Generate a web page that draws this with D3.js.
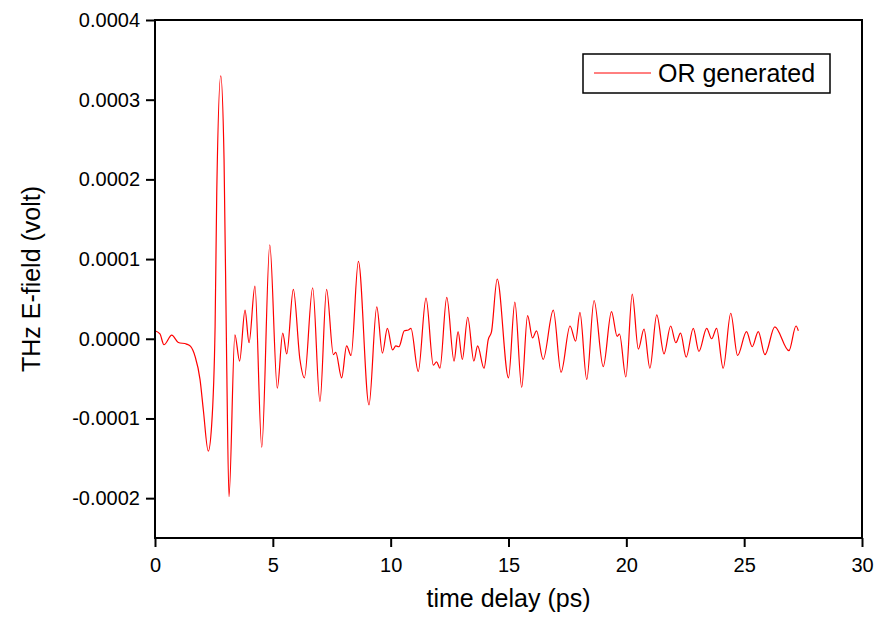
<!DOCTYPE html>
<html>
<head>
<meta charset="utf-8">
<script src="https://cdn.jsdelivr.net/npm/d3@7"></script>
<style>
  body { margin: 0; background: #fff; }
  text { font-family: Arial, "Liberation Sans", sans-serif; }
</style>
</head>
<body>
<div id="plotholder"></div>
<script>
// time delay (ps)
const TIMES = [
  0.00, 0.21, 0.38, 0.71, 0.99, 1.34, 1.51, 1.70, 1.91, 2.05, 2.26, 2.40,
  2.55, 2.62, 2.79, 2.93, 3.04, 3.14, 3.39, 3.59, 3.82, 3.99, 4.24, 4.53,
  4.87, 5.19, 5.42, 5.59, 5.87, 6.15, 6.34, 6.69, 7.00, 7.28, 7.57, 7.67,
  7.92, 8.13, 8.32, 8.63, 9.08, 9.41, 9.65, 9.86, 10.08, 10.22, 10.35, 10.58,
  10.75, 10.86, 11.17, 11.50, 11.81, 11.95, 12.09, 12.38, 12.69, 12.86, 13.04, 13.27,
  13.53, 13.69, 13.96, 14.14, 14.28, 14.52, 15.00, 15.27, 15.56, 15.81, 16.02, 16.19,
  16.47, 16.90, 17.23, 17.61, 17.85, 18.03, 18.32, 18.63, 19.02, 19.37, 19.61, 19.71,
  19.98, 20.25, 20.51, 20.75, 21.00, 21.29, 21.60, 21.88, 22.10, 22.30, 22.54, 22.84,
  23.08, 23.41, 23.62, 23.83, 24.11, 24.43, 24.72, 25.10, 25.34, 25.60, 25.88, 26.30,
  26.90, 27.20, 27.30
]

// THz E-field in units of 1e-4 volt
const FIELD = [
  0.10, 0.06, -0.075, 0.046, -0.046, -0.067, -0.096, -0.22, -0.51, -0.89, -1.41, -1.10,
  0.15, 1.83, 3.30, 2.25, -0.26, -1.98, 0.05, -0.28, 0.36, -0.05, 0.66, -1.36,
  1.18, -0.62, 0.07, -0.19, 0.62, -0.26, -0.49, 0.64, -0.79, 0.62, -0.20, -0.17,
  -0.49, -0.09, -0.21, 0.97, -0.83, 0.40, -0.18, 0.13, -0.14, -0.09, -0.10, 0.10,
  0.11, 0.13, -0.41, 0.51, -0.33, -0.29, -0.37, 0.52, -0.28, 0.09, -0.26, 0.27,
  -0.28, -0.09, -0.37, -0.01, 0.09, 0.75, -0.49, 0.46, -0.61, 0.29, 0.01, 0.10,
  -0.26, 0.36, -0.42, 0.16, -0.03, 0.33, -0.51, 0.48, -0.35, 0.34, 0.03, 0.06,
  -0.48, 0.56, -0.13, 0.12, -0.37, 0.30, -0.19, 0.16, -0.05, 0.07, -0.23, 0.13,
  -0.16, 0.13, 0.00, 0.13, -0.37, 0.32, -0.21, 0.09, -0.10, 0.09, -0.20, 0.15,
  -0.15, 0.16, 0.10
]

const XTICKS = [0, 5, 10, 15, 20, 25, 30]
const YTICKS = [-0.0002, -0.0001, 0, 0.0001, 0.0002, 0.0003, 0.0004]
const SERIESNAME = 'OR generated'

const width = 877, height = 617
const margin = { left: 155, right: 15, top: 20, bottom: 79 }
const plotw = width - margin.left - margin.right
const ploth = height - margin.top - margin.bottom

const svg = d3.select('#plotholder').append('svg')
  .attr('width', width)
  .attr('height', height)

const xscale = d3.scaleLinear().domain([0, 30]).range([margin.left, margin.left + plotw])
const yscale = d3.scaleLinear().domain([-0.00025, 0.0004]).range([margin.top + ploth, margin.top])

const data = TIMES.map((t, i) => [t, FIELD[i] * 1e-4])

// the trace
const line = d3.line()
  .x(d => xscale(d[0]))
  .y(d => yscale(d[1]))
  .curve(d3.curveMonotoneX)

svg.append('path')
  .datum(data)
  .attr('d', line)
  .attr('fill', 'none')
  .attr('stroke', '#ff0000')
  .attr('stroke-width', 1.2)

// frame
svg.append('rect')
  .attr('x', margin.left)
  .attr('y', margin.top)
  .attr('width', plotw)
  .attr('height', ploth)
  .attr('fill', 'none')
  .attr('stroke', '#000')
  .attr('stroke-width', 2)

// bottom axis
const xaxis = svg.append('g').attr('transform', `translate(0,${margin.top + ploth})`)
xaxis.call(d3.axisBottom(xscale).tickValues(d3.range(0, 30.01, 2.5)).tickSize(5).tickFormat(''))
xaxis.call(d3.axisBottom(xscale).tickValues(XTICKS).tickSize(9).tickPadding(11).tickFormat(d3.format('d')))
xaxis.selectAll('.domain').remove()
xaxis.selectAll('line').attr('stroke-width', 2)
xaxis.selectAll('text').attr('font-size', 20).attr('fill', '#000')

// left axis
const yaxis = svg.append('g').attr('transform', `translate(${margin.left},0)`)
yaxis.call(d3.axisLeft(yscale).tickValues(d3.range(-0.00025, 0.000401, 0.00005)).tickSize(5).tickFormat(''))
yaxis.call(d3.axisLeft(yscale).tickValues(YTICKS).tickSize(9).tickPadding(6).tickFormat(d3.format('.4f')))
yaxis.selectAll('.domain').remove()
yaxis.selectAll('line').attr('stroke-width', 2)
yaxis.selectAll('text').attr('font-size', 20).attr('fill', '#000')
  .text(d => d3.format('.4f')(d).replace('−', '-'))

// axis titles
svg.append('text')
  .attr('x', margin.left + plotw / 2)
  .attr('y', 607)
  .attr('text-anchor', 'middle')
  .attr('font-size', 25)
  .text('time delay (ps)')

svg.append('text')
  .attr('transform', `translate(40,${margin.top + ploth / 2}) rotate(-90)`)
  .attr('text-anchor', 'middle')
  .attr('font-size', 25)
  .text('THz E-field (volt)')

// legend
const legend = svg.append('g')
legend.append('rect')
  .attr('x', 583).attr('y', 54)
  .attr('width', 247).attr('height', 39)
  .attr('fill', '#fff')
  .attr('stroke', '#000')
  .attr('stroke-width', 1.5)
legend.append('line')
  .attr('x1', 594).attr('x2', 651)
  .attr('y1', 73).attr('y2', 73)
  .attr('stroke', '#ff0000')
  .attr('stroke-width', 1)
legend.append('text')
  .attr('x', 658).attr('y', 82)
  .attr('font-size', 25)
  .text(SERIESNAME)
</script>
</body>
</html>
